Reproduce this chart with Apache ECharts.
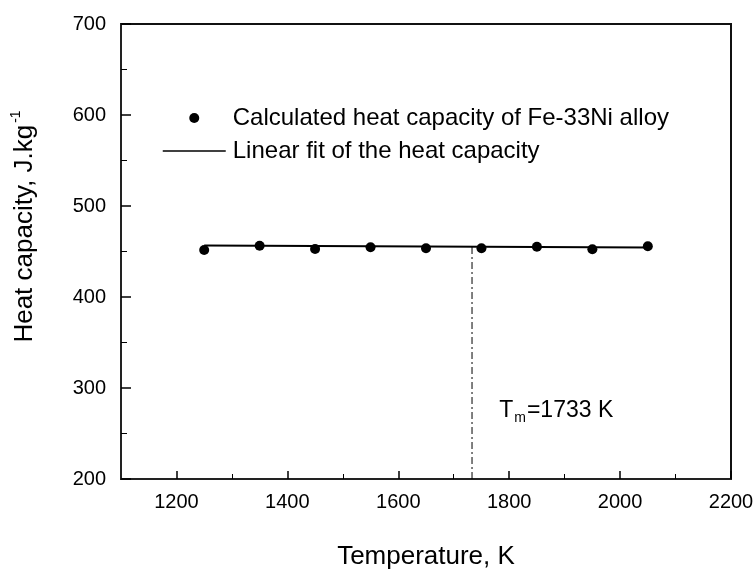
<!DOCTYPE html>
<html>
<head>
<meta charset="utf-8">
<script src="https://cdn.jsdelivr.net/npm/echarts@6/dist/echarts.min.js"></script>
<style>
  html, body { margin: 0; padding: 0; background: #fff; }
  #chart { width: 756px; height: 570px; }
</style>
</head>
<body>
<div id="chart"></div>
<script>
// measured points (K, J/kg)
var temps = [1250, 1350, 1450, 1550, 1650, 1750, 1850, 1950, 2050];
var heatCap = [451.6, 456.4, 452.7, 454.6, 453.5, 453.5, 455.3, 452.4, 455.7];
// linear fit end points
var fitT = [1250, 2050];
var fitCp = [456.5, 454.3];
// melting temperature
var meltT = 1733;
var meltCp = 455.2;
var tmLabelPos = [1782, 275];
// tick labels
var xMajor = [1200, 1400, 1600, 1800, 2000, 2200];
var xMinor = [1300, 1500, 1700, 1900, 2100];

var font = 'Liberation Sans, Arial, sans-serif';
var chart = echarts.init(document.getElementById('chart'));

var option = {
  animation: false,
  backgroundColor: '#fff',
  textStyle: { fontFamily: font, color: '#000' },
  grid: {
    left: 121, right: 25, top: 24, bottom: 91,
    outerBoundsMode: 'none',
    show: true, borderColor: '#111', borderWidth: 2
  },
  legend: {
    orient: 'vertical',
    left: 157,
    top: 101,
    itemWidth: 63,
    itemHeight: 10,
    itemGap: 9,
    textStyle: { fontSize: 24, lineHeight: 24, color: '#000', fontFamily: font, padding: [0, 0, 0, 2] },
    data: [
      { name: 'Calculated heat capacity of Fe-33Ni alloy', icon: 'circle' },
      { name: 'Linear fit of the heat capacity', itemStyle: { opacity: 0 }, lineStyle: { opacity: 1, width: 1.5, color: '#000' } }
    ]
  },
  xAxis: [
    {
      type: 'value',
      min: 1100,
      max: 2200,
      name: 'Temperature, K',
      nameLocation: 'middle',
      nameGap: 65,
      nameTextStyle: { fontSize: 26, color: '#000', fontFamily: font },
      axisLine: { lineStyle: { color: '#222', width: 2 } },
      axisTick: { inside: true, length: 8, customValues: xMajor, lineStyle: { color: '#000', width: 1.5 } },
      axisLabel: {
        fontSize: 20, color: '#000', margin: 13, customValues: xMajor,
        formatter: function (v) { return String(v); }
      },
      splitLine: { show: false }
    },
    {
      type: 'value',
      min: 1100,
      max: 2200,
      position: 'bottom',
      axisLine: { show: false },
      axisTick: { inside: true, length: 5, customValues: xMinor, lineStyle: { color: '#000', width: 1 } },
      axisLabel: { show: false },
      splitLine: { show: false }
    }
  ],
  yAxis: {
    type: 'value',
    min: 200,
    max: 700,
    interval: 100,
    name: '{a|Heat capacity, J.kg}{s|-1}',
    nameLocation: 'middle',
    nameGap: 80,
    nameRotate: 90,
    nameTextStyle: {
      fontSize: 26, color: '#000', fontFamily: font,
      padding: [0, 0, 0, 50],
      rich: {
        a: { fontSize: 26, fontFamily: font, color: '#000' },
        s: { fontSize: 14, fontFamily: font, color: '#000', padding: [0, 0, 18, 2] }
      }
    },
    axisLine: { lineStyle: { color: '#222', width: 2 } },
    axisTick: { inside: true, length: 10, lineStyle: { color: '#000', width: 1.5 } },
    minorTick: { show: true, splitNumber: 2, length: 6, lineStyle: { color: '#000', width: 1 } },
    axisLabel: { fontSize: 20, color: '#000', margin: 15 },
    splitLine: { show: false }
  },
  series: [
    {
      name: 'Calculated heat capacity of Fe-33Ni alloy',
      type: 'scatter',
      symbol: 'circle',
      symbolSize: 10,
      itemStyle: { color: '#000', opacity: 1 },
      data: temps.map(function (t, i) { return [t, heatCap[i]]; }),
      z: 5
    },
    {
      name: 'Linear fit of the heat capacity',
      type: 'line',
      symbol: 'none',
      lineStyle: { color: '#000', width: 2 },
      itemStyle: { color: '#000' },
      data: fitT.map(function (t, i) { return [t, fitCp[i]]; })
    },
    {
      name: 'melt',
      type: 'line',
      symbol: 'none',
      lineStyle: { color: '#000', width: 1, type: [7, 3, 2, 3] },
      data: [[meltT, 200], [meltT, meltCp]]
    },
    {
      name: 'tm',
      type: 'scatter',
      symbolSize: 0,
      silent: true,
      itemStyle: { opacity: 1 },
      data: [tmLabelPos],
      label: {
        show: true,
        position: 'right',
        distance: 0,
        color: '#000',
        formatter: '{t|T}{m|m}{t|=1733 K}',
        rich: {
          t: { fontSize: 23, fontFamily: font, color: '#000' },
          m: { fontSize: 14, fontFamily: font, color: '#000', padding: [14, 1, 0, 1] }
        }
      }
    }
  ]
};

chart.setOption(option);
</script>
</body>
</html>
